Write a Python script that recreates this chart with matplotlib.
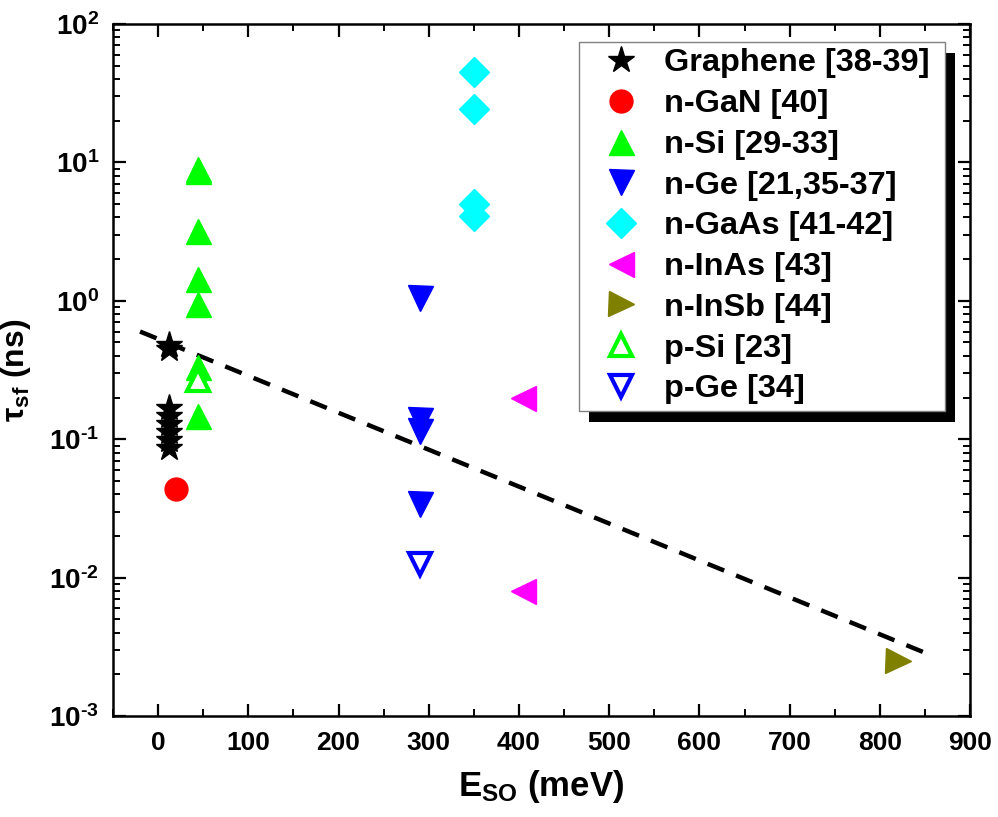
import numpy as np
import matplotlib
matplotlib.use('Agg')
import matplotlib.pyplot as plt
from matplotlib.ticker import FixedLocator, LogLocator, FuncFormatter, NullFormatter
from matplotlib.patches import Rectangle

# data (E_SO in meV, tau_sf in ns)
graphene_tau = [0.48, 0.45, 0.168, 0.147, 0.129, 0.113, 0.099, 0.086]
graphene_e = [12] * len(graphene_tau)
gan_e = [20]
gan_tau = [0.044]
nsi_tau = [9.0, 8.6, 3.18, 1.44, 0.95, 0.334, 0.148]
nsi_e = [44] * len(nsi_tau)
nge_e = [290, 290, 290, 290]
nge_tau = [1.04, 0.137, 0.114, 0.034]
gaas_e = [350, 350, 350, 350]
gaas_tau = [45, 24.5, 5.0, 4.1]
inas_e = [405, 405]
inas_tau = [0.20, 0.008]
insb_e = [820]
insb_tau = [0.0025]
psi_e = [44]
psi_tau = [0.27]
pge_e = [290]
pge_tau = [0.0126]
fit_e = [-20, 848]
fit_tau = [0.6, 0.0029]

labels = ['Graphene [38-39]', 'n-GaN [40]', 'n-Si [29-33]', 'n-Ge [21,35-37]',
          'n-GaAs [41-42]', 'n-InAs [43]', 'n-InSb [44]', 'p-Si [23]', 'p-Ge [34]']

sans = ['Liberation Sans', 'DejaVu Sans']
plt.rcParams['font.family'] = sans
plt.rcParams['mathtext.fontset'] = 'custom'
plt.rcParams['mathtext.bf'] = 'Liberation Sans:bold'
plt.rcParams['mathtext.rm'] = 'Liberation Sans:bold'
plt.rcParams['mathtext.it'] = 'Liberation Sans:bold'

fig = plt.figure(figsize=(9.98, 8.17), dpi=100)
ax = fig.add_axes([0.1132, 0.1236, 0.8588, 0.847])

ax.plot(fit_e, fit_tau, ls=(0, (4.0, 2.9)), color='black', lw=3.2, zorder=3)

h = []
h += ax.plot(graphene_e, graphene_tau, '*', color='black', ms=20, ls='none', zorder=4)
h += ax.plot(gan_e, gan_tau, 'o', color='#ff0000', ms=16.5, ls='none', zorder=4)
h += ax.plot(nsi_e, nsi_tau, '^', color='#00ff00', ms=18, ls='none', zorder=4)
h += ax.plot(nge_e, nge_tau, 'v', color='#0000ff', ms=18, ls='none', zorder=4)
h += ax.plot(gaas_e, gaas_tau, 'D', color='#00ffff', ms=15, ls='none', zorder=4)
h += ax.plot(inas_e, inas_tau, '<', color='#ff00ff', ms=18, ls='none', zorder=4)
h += ax.plot(insb_e, insb_tau, '>', color='#808000', ms=18, ls='none', zorder=4)
h += ax.plot(psi_e, psi_tau, '^', mfc='white', mec='#00ff00', mew=3, ms=16, ls='none', zorder=4)
h += ax.plot(pge_e, pge_tau, 'v', mfc='white', mec='#0000ff', mew=3, ms=16, ls='none', zorder=4)

ax.set_yscale('log')
ax.set_xlim(-50, 900)
ax.set_ylim(1e-3, 1e2)

ax.xaxis.set_major_locator(FixedLocator(np.arange(0, 901, 100)))
ax.xaxis.set_minor_locator(FixedLocator(np.arange(-50, 901, 50)))
ax.yaxis.set_major_locator(LogLocator(base=10, numticks=10))
ax.yaxis.set_minor_locator(LogLocator(base=10, subs=np.arange(2, 10), numticks=20))
ax.yaxis.set_minor_formatter(NullFormatter())


def log_label(v, pos):
    n = int(round(np.log10(v)))
    exp = str(n) if n >= 0 else r'\text{-}' + str(-n)
    return r'$\mathbf{10^{%s}}$' % exp


ax.yaxis.set_major_formatter(FuncFormatter(log_label))

ax.tick_params(which='both', direction='in', top=True, right=True)
ax.tick_params(which='major', length=9, width=1.6)
ax.tick_params(which='minor', length=5, width=1.4)
ax.tick_params(axis='x', labelsize=19, pad=11)
ax.tick_params(axis='y', labelsize=20, pad=10)
for t in ax.get_xticklabels():
    t.set_fontweight('bold')
for s in ax.spines.values():
    s.set_linewidth(1.8)

ax.set_xlabel(r'E$_{\mathbf{SO}}$ (meV)', fontweight='bold', fontsize=25, labelpad=9)
ax.set_ylabel(r'$\mathbf{\tau_{sf}}$ (ns)', fontweight='bold', fontsize=23)
ax.yaxis.set_label_coords(-0.093, 0.5)

leg = ax.legend(h, [s + ' ' for s in labels], loc='upper left',
                bbox_to_anchor=(579 / 998, 1 - 42 / 817),
                bbox_transform=fig.transFigure, borderaxespad=0, fancybox=False,
                frameon=True, edgecolor='#808080', framealpha=1, numpoints=1,
                handlelength=2.2, handletextpad=0.2, labelspacing=0.33, borderpad=0.2,
                prop={'weight': 'bold', 'size': 23.4})
leg.get_frame().set_linewidth(1.0)
leg.set_zorder(6)

# black drop shadow behind the legend box
fig.canvas.draw()
bb = leg.get_frame().get_window_extent()
inv = fig.transFigure.inverted()
(x0, y0), (x1, y1) = inv.transform([[bb.x0 + 10, bb.y0 - 11], [bb.x1 + 10, bb.y1 - 11]])
fig.patches.append(Rectangle((x0, y0), x1 - x0, y1 - y0, transform=fig.transFigure,
                             facecolor='black', edgecolor='none', zorder=0.5))
ax.set_zorder(1)
ax.patch.set_alpha(0)

fig.savefig('out.png', dpi=100)
